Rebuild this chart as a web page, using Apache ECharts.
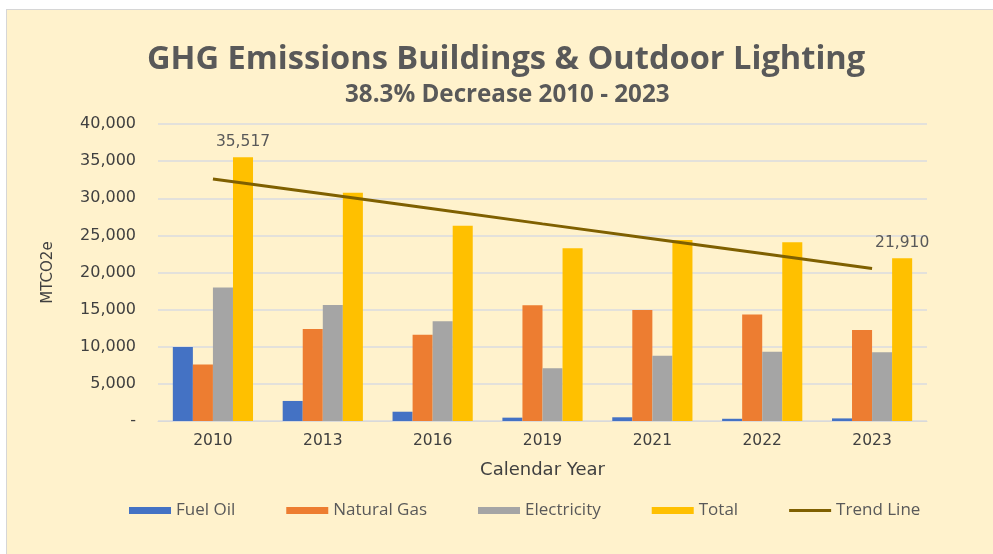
<!DOCTYPE html>
<html>
<head>
<meta charset="utf-8">
<script src="https://cdn.jsdelivr.net/npm/echarts@6/dist/echarts.min.js"></script>
<style>
html,body{margin:0;padding:0;background:#fff;}
#bg{position:absolute;left:6px;top:9px;width:987px;height:545px;background:#FFF2CC;border-left:1px solid #d6d6d6;border-top:1px solid #d6d6d6;}
#chart{position:absolute;left:0;top:0;width:993px;height:554px;}
</style>
</head>
<body>
<div id="bg"></div>
<div id="chart"></div>
<script>
const categories = ['2010','2013','2016','2019','2021','2022','2023'];
const fuelOil    = [9950, 2700, 1250, 450, 500, 300, 350];
const naturalGas = [7600, 12400, 11600, 15600, 14950, 14350, 12250];
const electricity= [17967, 15620, 13450, 7100, 8800, 9330, 9250];
const total      = [35517, 30750, 26300, 23250, 24380, 24060, 21910];
const trendLine  = [32600, 30600, 28600, 26550, 24550, 22550, 20550];
const yTicks = [0, 5000, 10000, 15000, 20000, 25000, 30000, 35000, 40000];

const chart = echarts.init(document.getElementById('chart'), null, {renderer:'canvas'});
const txt = '#595959';
const fmt = v => v === 0 ? '-' : v.toLocaleString('en-US');
const labelIdx = [0, 6];
chart.setOption({
  backgroundColor: 'transparent',
  animation: false,
  title: [
    {text: 'GHG Emissions Buildings & Outdoor Lighting', left: 142, top: 38,
     textStyle: {fontFamily: 'Open Sans', fontWeight: 'bold', fontSize: 32.6, color: txt}},
    {text: '38.3% Decrease 2010 - 2023', left: 340, top: 78,
     textStyle: {fontFamily: 'Open Sans', fontWeight: 'bold', fontSize: 24.2, color: txt}}
  ],
  grid: {left: 158, right: 66, top: 124, bottom: 133},
  legend: {
    bottom: 30, left: 124, itemWidth: 42, itemHeight: 7, itemGap: 51,
    textStyle: {fontFamily: 'Open Sans', fontSize: 17, color: txt},
    data: [
      {name: 'Fuel Oil', icon: 'rect'},
      {name: 'Natural Gas', icon: 'rect'},
      {name: 'Electricity', icon: 'rect'},
      {name: 'Total', icon: 'rect'},
      {name: 'Trend Line', icon: 'path://M0,0 M0,7 M0,2 L42,2 L42,5 L0,5 Z'}
    ]
  },
  xAxis: {
    type: 'category', data: categories,
    name: 'Calendar Year', nameLocation: 'middle', nameGap: 40,
    nameTextStyle: {fontFamily: 'DejaVu Sans', fontSize: 18, color: '#404040'},
    axisLine: {lineStyle: {color: '#D9D9D9', width: 1}},
    axisTick: {show: false},
    axisLabel: {fontFamily: 'DejaVu Sans', fontSize: 15.5, color: '#404040', margin: 12}
  },
  yAxis: {
    type: 'value', min: 0, max: 40000, interval: 5000,
    name: 'MTCO2e', nameLocation: 'middle', nameGap: 102,
    nameTextStyle: {fontFamily: 'DejaVu Sans', fontSize: 15, color: '#404040'},
    axisLine: {show: false}, axisTick: {show: false},
    splitLine: {lineStyle: {color: '#DADBE0', width: 1.5}},
    axisLabel: {fontFamily: 'DejaVu Sans', fontSize: 16, color: '#404040', margin: 22,
      formatter: v => yTicks.includes(v) ? fmt(v) : ''}
  },
  series: [
    {name: 'Fuel Oil', type: 'bar', data: fuelOil, barGap: '0%', barCategoryGap: '27%', itemStyle: {color: '#4472C4'}},
    {name: 'Natural Gas', type: 'bar', data: naturalGas, itemStyle: {color: '#ED7D31'}},
    {name: 'Electricity', type: 'bar', data: electricity, itemStyle: {color: '#A5A5A5'}},
    {name: 'Total', type: 'bar', data: total, itemStyle: {color: '#FFC000'},
     label: {show: true, position: 'top', distance: 7, fontFamily: 'DejaVu Sans', fontSize: 15.5, color: txt,
       formatter: p => labelIdx.includes(p.dataIndex) ? fmt(p.value) : ''}},
    {name: 'Trend Line', type: 'line', data: trendLine, symbol: 'none', z: 5,
     lineStyle: {color: '#7F6000', width: 3}, itemStyle: {color: '#7F6000'}}
  ]
});
</script>
</body>
</html>
